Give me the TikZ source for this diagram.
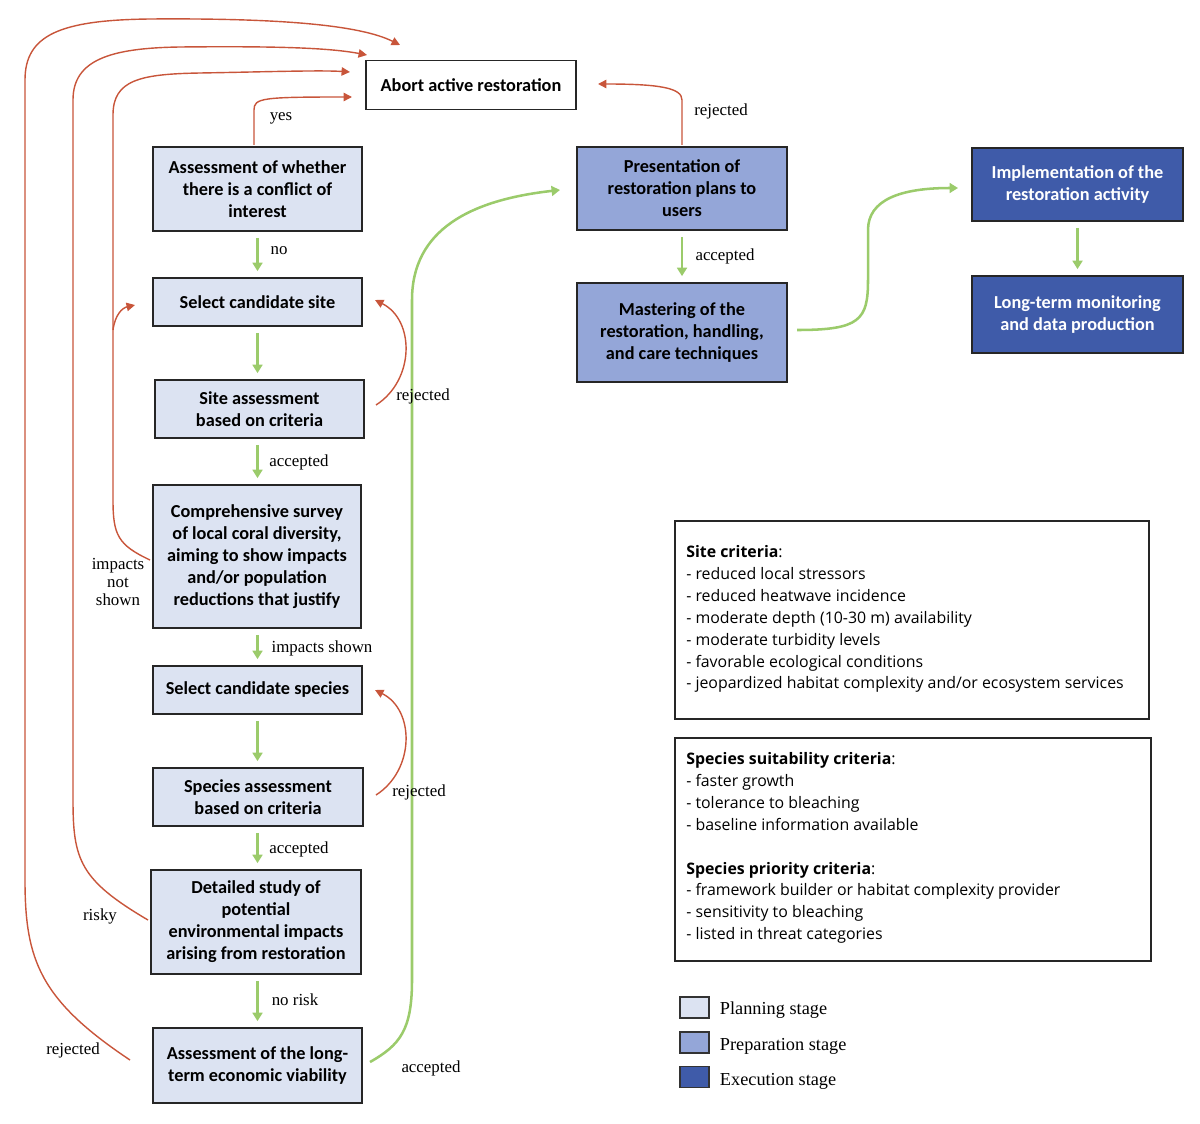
\documentclass[tikz,border=0pt]{standalone}
\usepackage{fontspec}
\setmainfont{Liberation Serif}
\newfontfamily\boxf{Carlito}
\newfontfamily\critf{Open Sans}
\usetikzlibrary{arrows.meta}
\definecolor{plan}{HTML}{DCE3F2}
\definecolor{prep}{HTML}{94A6D8}
\definecolor{exec}{HTML}{3F5BA9}
\definecolor{redc}{HTML}{C8553A}
\definecolor{grnc}{HTML}{9BCB6B}
\begin{document}
\begin{tikzpicture}[x=0.025cm,y=-0.025cm,
  box/.style={draw=black!85,line width=1.2pt,font=\boxf\bfseries\fontsize{13}{15.6}\selectfont,align=center,inner sep=0pt},
  pl/.style={box,fill=plan},
  pr/.style={box,fill=prep},
  ex/.style={box,fill=exec,text=white},
  ra/.style={draw=redc,line width=1pt,-{Triangle[length=6pt,width=6pt]}},
  ga/.style={draw=grnc,line width=1.8pt,-{Triangle[length=6pt,width=7pt]}},
  lab/.style={font=\fontsize{12}{13}\selectfont,align=center},
  crit/.style={font=\critf\fontsize{11.3}{15.6}\selectfont,align=left,anchor=north west,inner sep=0pt}]
\useasboundingbox (0,0) rectangle (1200,1123);
% boxes
\node[box,fill=white,minimum width=210*0.025cm,minimum height=49*0.025cm] (abort) at (471,85) {Abort active restoration};
\node[pl,minimum width=209*0.025cm,minimum height=84*0.025cm] (conf) at (257.5,189) {Assessment of whether\\there is a conflict of\\interest};
\node[pl,minimum width=209*0.025cm,minimum height=48*0.025cm] (site) at (257.5,302) {Select candidate site};
\node[pl,minimum width=209*0.025cm,minimum height=58*0.025cm] (sass) at (259.5,409) {Site assessment\\based on criteria};
\node[pl,minimum width=208*0.025cm,minimum height=143*0.025cm] (surv) at (257,556.5) {Comprehensive survey\\of local coral diversity,\\aiming to show impacts\\and/or population\\reductions that justify};
\node[pl,minimum width=209*0.025cm,minimum height=48*0.025cm] (spec) at (257.5,690) {Select candidate species};
\node[pl,minimum width=210*0.025cm,minimum height=58*0.025cm] (spass) at (258,797) {Species assessment\\based on criteria};
\node[pl,minimum width=210*0.025cm,minimum height=104*0.025cm] (det) at (256,922) {Detailed study of\\potential\\environmental impacts\\arising from restoration};
\node[pl,minimum width=209*0.025cm,minimum height=75*0.025cm] (econ) at (257.5,1065.5) {Assessment of the long-\\term economic viability};
\node[pr,minimum width=210*0.025cm,minimum height=83*0.025cm] (pres) at (682,188.5) {Presentation of\\restoration plans to\\users};
\node[pr,minimum width=210*0.025cm,minimum height=99*0.025cm] (mast) at (682,332.5) {Mastering of the\\restoration, handling,\\and care techniques};
\node[ex,minimum width=211*0.025cm,minimum height=73*0.025cm] (impl) at (1077.5,184.5) {Implementation of the\\restoration activity};
\node[ex,minimum width=211*0.025cm,minimum height=77*0.025cm] (mon) at (1077.5,314.5) {Long-term monitoring\\and data production};
% criteria boxes
\node[draw=black!85,line width=0.8pt,minimum width=474*0.025cm,minimum height=198*0.025cm] (cb1) at (912,620) {};
\node[crit] (ct1) at (686,545) {\textbf{Site criteria}:\\- reduced local stressors\\- reduced heatwave incidence\\- moderate depth (10-30 m) availability\\- moderate turbidity levels\\- favorable ecological conditions\\- jeopardized habitat complexity and/or ecosystem services};
\node[draw=black!85,line width=0.8pt,minimum width=476*0.025cm,minimum height=223*0.025cm] (cb2) at (913,849.5) {};
\node[crit] (ct2) at (686,752) {\textbf{Species suitability criteria}:\\- faster growth\\- tolerance to bleaching\\- baseline information available\\[15.6pt]\textbf{Species priority criteria}:\\- framework builder or habitat complexity provider\\- sensitivity to bleaching\\- listed in threat categories};
% legend
\node[draw=black!80,fill=plan,line width=0.8pt,minimum width=29*0.025cm,minimum height=21*0.025cm] (l1) at (694.5,1007.5) {};
\node[draw=black!80,fill=prep,line width=0.8pt,minimum width=29*0.025cm,minimum height=21*0.025cm] (l2) at (694.5,1042.5) {};
\node[draw=black!80,fill=exec,line width=0.8pt,minimum width=29*0.025cm,minimum height=21*0.025cm] (l3) at (694.5,1077) {};
\node[anchor=west,font=\fontsize{13}{15}\selectfont] (t1) at (715,1010) {Planning stage};
\node[anchor=west,font=\fontsize{13}{15}\selectfont] (t2) at (715,1046) {Preparation stage};
\node[anchor=west,font=\fontsize{13}{15}\selectfont] (t3) at (715,1081) {Execution stage};
% green arrows
\tikzset{gap/.style={yshift=-0.15cm},gapn/.style={yshift=0.15cm}}
\draw[ga] ([gap]conf.south) -- ([gapn]site.north);
\draw[ga] ([gap]site.south) -- ([gapn]sass.north -| site.south);
\draw[ga] ([gap]sass.south -| site.south) -- ([gapn]surv.north -| site.south);
\draw[ga] ([gap]surv.south -| site.south) -- ([gapn]spec.north -| site.south);
\draw[ga] ([gap]spec.south -| site.south) -- ([gapn]spass.north -| site.south);
\draw[ga] ([gap]spass.south -| site.south) -- ([gapn]det.north -| site.south);
\draw[ga] ([gap]det.south -| site.south) -- ([gapn]econ.north -| site.south);
\draw[ga] ([gap]pres.south) -- ([gapn]mast.north);
\draw[ga] ([gap]impl.south) -- ([gapn]mon.north);
\coordinate (g1) at (370,1062);
\coordinate (g2) at (560,190);
\draw[ga] (g1) .. controls (400,1045) and (412,1030) .. (412,980) -- (412,300) .. controls (412,230) and (470,200) .. (g2);
\coordinate (g3) at (797,330);
\coordinate (g4) at (958,188);
\draw[ga] (g3) .. controls (860,330) and (868,320) .. (868,280) -- (868,230) .. controls (868,200) and (900,188) .. (g4);
% red arrows
\coordinate (r1) at (352,97);
\draw[ra] (254,145) -- (254,110) .. controls (254,98) and (262,97) .. (r1);
\coordinate (r2) at (598,84);
\draw[ra] (682,145) -- (682,100) .. controls (682,88) and (660,84) .. (r2);
\draw[ra] (376,405) .. controls (415,380) and (415,320) .. (375,300);
\draw[ra] (376,795) .. controls (415,770) and (415,710) .. (375,690);
\coordinate (r3) at (350,72);
\draw[ra] (150,560) .. controls (118,545) and (113,535) .. (113,500) -- (113,115) .. controls (113,80) and (140,74) .. (200,73) .. controls (260,72) and (320,70) .. (r3);
\coordinate (r4) at (135,305);
\draw[ra] (113,330) .. controls (115,315) and (122,308) .. (r4);
\coordinate (r5) at (367,55);
\draw[ra] (148,920) .. controls (80,880) and (73,860) .. (73,800) -- (73,100) .. controls (73,60) and (110,48) .. (180,47) .. controls (280,46) and (330,48) .. (r5);
\coordinate (r6) at (400,45);
\draw[ra] (130,1060) .. controls (40,1000) and (25,960) .. (25,880) -- (25,80) .. controls (25,35) and (60,20) .. (150,19) .. controls (280,18) and (360,25) .. (r6);
% labels
\node[lab] (y) at (281,118) {yes};
\node[lab] (n) at (279,251) {no};
\node[lab] (a1) at (299,462) {accepted};
\node[lab] (is) at (322,648) {impacts shown};
\node[lab] (a2) at (299,849) {accepted};
\node[lab] (nr) at (295,1000) {no risk};
\node[lab] (a3) at (431,1068) {accepted};
\node[lab] (rj1) at (423,396) {rejected};
\node[lab] (rj2) at (419,792) {rejected};
\node[lab] (rj3) at (721,111) {rejected};
\node[lab] (a4) at (725,256) {accepted};
\node[lab] (rk) at (100,916) {risky};
\node[lab] (rj4) at (73,1050) {rejected};
\node[lab,font=\fontsize{12}{12.5}\selectfont] (ins) at (118,582) {impacts\\not\\shown};
\end{tikzpicture}
\end{document}
